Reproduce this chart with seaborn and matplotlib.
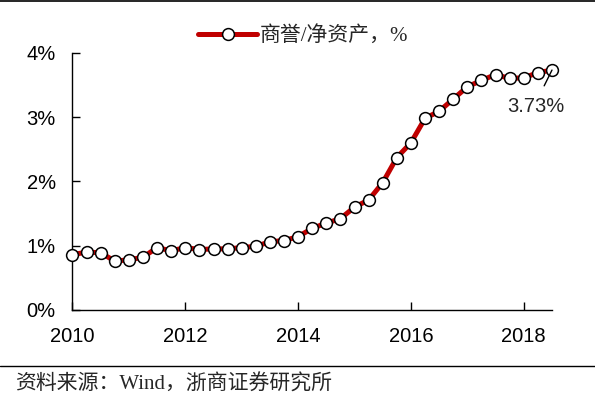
import matplotlib
matplotlib.use('Agg')

import numpy as np
import pandas as pd
import seaborn as sns
import matplotlib.pyplot as plt
from matplotlib.lines import Line2D
from matplotlib.ticker import FuncFormatter

# quarterly goodwill / net assets, %
start_year = 2010
ratio = [0.86, 0.90, 0.89, 0.76, 0.78, 0.82, 0.97, 0.92, 0.97, 0.94,
         0.95, 0.95, 0.97, 0.99, 1.06, 1.08, 1.14, 1.27, 1.35, 1.42,
         1.60, 1.71, 1.98, 2.37, 2.60, 2.98, 3.09, 3.28, 3.47, 3.57,
         3.66, 3.60, 3.61, 3.69, 3.73]
x_ticks = [2010, 2012, 2014, 2016, 2018]
y_ticks = [0, 1, 2, 3, 4]
series_name = "商誉/净资产，%"
source_note = "资料来源：Wind，浙商证券研究所"

df = pd.DataFrame({"t": start_year + np.arange(len(ratio)) / 4, "v": ratio})

sns.set_style("ticks")
plt.rcParams['font.family'] = ['Liberation Sans', 'Noto Sans CJK SC']
cjk = ['Liberation Serif', 'Noto Sans CJK SC']

fig = plt.figure(figsize=(5.95, 3.99), dpi=100)
ax = fig.add_axes([0.1218, 0.2231, 0.8059, 0.6448])

sns.lineplot(data=df, x="t", y="v", ax=ax, color="#C00000", linewidth=3.6,
             marker="o", markersize=8.5, markerfacecolor="white",
             markeredgecolor="black", markeredgewidth=1.1,
             label=series_name, clip_on=False, zorder=3)

ax.set_xlim(2010, 2018.5)
ax.set_ylim(0, 4)
ax.set_xticks(x_ticks)
ax.set_yticks(y_ticks)
ax.yaxis.set_major_formatter(FuncFormatter(lambda v, p: f"{v:.0f}%"))
ax.set_xlabel("")
ax.set_ylabel("")
ax.tick_params(axis="both", direction="in", length=6, width=1,
               labelsize=14.5, colors="black")
ax.tick_params(axis="y", pad=12)
ax.tick_params(axis="x", pad=12)
sns.despine(ax=ax)
for s in ["left", "bottom"]:
    ax.spines[s].set_color("black")
    ax.spines[s].set_linewidth(1)

last_x = df["t"].iloc[-1]
last_v = df["v"].iloc[-1]
ax.annotate(f"{last_v:.2f}%", xy=(last_x, last_v), xytext=(-16, -36),
            textcoords="offset pixels", ha="center", va="center", fontsize=14.5,
            arrowprops=dict(arrowstyle="-", color="black", lw=1,
                            shrinkA=6, shrinkB=0, relpos=(0.55, 1)))

handles, labels = ax.get_legend_handles_labels()
ax.get_legend().remove()
fig.legend(handles, labels, loc="center", bbox_to_anchor=(0.51, 0.91),
           frameon=False, handlelength=2.8, handletextpad=0.15,
           prop={"family": cjk, "size": 15})

fig.add_artist(Line2D([0, 1], [0.998, 0.998], color="black", lw=1.2))
fig.add_artist(Line2D([0, 1], [0.0827, 0.0827], color="black", lw=1))
fig.text(0.025, 0.035, source_note, ha="left", va="center", fontsize=15,
         family=cjk)

fig.savefig("out.png", dpi=100)
